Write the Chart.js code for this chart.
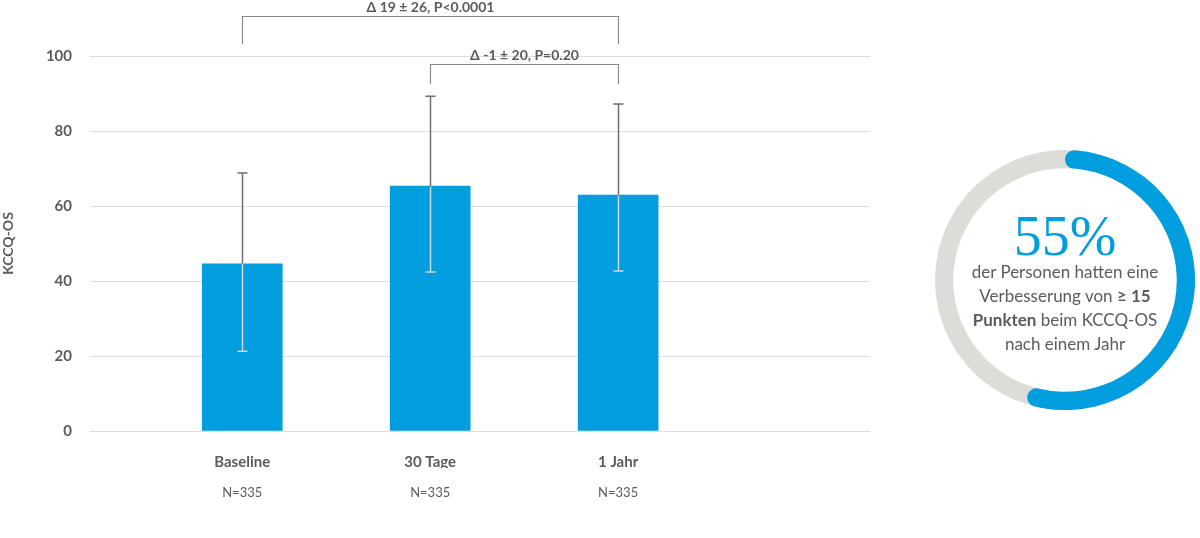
<!DOCTYPE html>
<html lang="de">
<head>
<meta charset="UTF-8">
<title>KCCQ-OS</title>
<script src="https://cdn.jsdelivr.net/npm/chart.js"></script>
<style>
  body { margin: 0; background: #fff; width: 1200px; height: 538px; overflow: hidden; font-family: Lato, sans-serif; }
  #barWrap { position: absolute; left: 0; top: 0; width: 900px; height: 538px; }
  .ring { position: absolute; left: 935px; top: 150px; width: 260px; height: 260px; }
  #ringText { position: absolute; left: 935px; top: 150px; width: 260px; height: 260px; text-align: center; color: #5b5b5b; }
  #ringText .big { font-family: "Liberation Serif", serif; color: #009ddf; font-size: 56px; line-height: 56px; margin-top: 58px; }
  #ringText .small { font-size: 17px; line-height: 24px; margin-top: -4px; }
  #ringText b { font-weight: 700; }
</style>
</head>
<body>
<div id="barWrap"><canvas id="bars"></canvas></div>
<div class="ring"><canvas id="ringBg"></canvas></div>
<div class="ring"><canvas id="ringFg"></canvas></div>
<div id="ringText">
  <div class="big">55%</div>
  <div class="small">der Personen hatten eine<br>Verbesserung von <b>≥ 15</b><br><b>Punkten</b> beim KCCQ-OS<br>nach einem Jahr</div>
</div>

<script>
// data
const categories = ['Baseline', '30 Tage', '1 Jahr'];
const nLabels = ['N=335', 'N=335', 'N=335'];
const means = [44.6, 65.3, 62.9];
const errHigh = [68.8, 89.3, 87.2];
const errLow = [21.3, 42.4, 42.7];
const yTicks = [0, 20, 40, 60, 80, 100];

// brackets over the bars (category index from/to, y level in KCCQ units)
const bracketFrom = [0, 1];
const bracketTo = [2, 2];
const bracketLevel = [110.7, 97.9];
const bracketLegEnd = [103.2, 92.5];
const bracketLabels = ['Δ 19 ± 26, P<0.0001', 'Δ -1 ± 20, P=0.20'];

const improvedPct = 55;

const blue = '#009ddf';
const textGray = '#5b5b5b';

const errorBars = {
  id: 'errorBars',
  afterDatasetsDraw(chart) {
    const xs = chart.scales.x, ys = chart.scales.y, ctx = chart.ctx;
    ctx.save();
    ctx.lineWidth = 1.5;
    means.forEach((m, i) => {
      const x = Math.round(xs.getPixelForValue(i + 1)) + 0.5;
      const yHi = ys.getPixelForValue(errHigh[i]);
      const yM = ys.getPixelForValue(m);
      const yLo = ys.getPixelForValue(errLow[i]);
      ctx.strokeStyle = '#6f6f72';
      ctx.beginPath();
      ctx.moveTo(x, yHi); ctx.lineTo(x, yM);
      ctx.moveTo(x - 5, yHi); ctx.lineTo(x + 5, yHi);
      ctx.stroke();
      ctx.strokeStyle = '#d4d4d4';
      ctx.beginPath();
      ctx.moveTo(x, yM); ctx.lineTo(x, yLo);
      ctx.moveTo(x - 5, yLo); ctx.lineTo(x + 5, yLo);
      ctx.stroke();
    });
    ctx.restore();
  }
};

const brackets = {
  id: 'brackets',
  afterDraw(chart) {
    const xs = chart.scales.x, ys = chart.scales.y, ctx = chart.ctx;
    ctx.save();
    ctx.strokeStyle = '#8a8a8c';
    ctx.lineWidth = 1.2;
    ctx.fillStyle = textGray;
    ctx.font = 'bold 14px Lato, sans-serif';
    ctx.textAlign = 'center';
    ctx.textBaseline = 'middle';
    bracketLabels.forEach((lab, i) => {
      const x1 = Math.round(xs.getPixelForValue(bracketFrom[i] + 1)) + 0.5;
      const x2 = Math.round(xs.getPixelForValue(bracketTo[i] + 1)) + 0.5;
      const y = Math.round(ys.getPixelForValue(bracketLevel[i])) + 0.5;
      const yEnd = ys.getPixelForValue(bracketLegEnd[i]);
      ctx.beginPath();
      ctx.moveTo(x1, yEnd); ctx.lineTo(x1, y); ctx.lineTo(x2, y); ctx.lineTo(x2, yEnd);
      ctx.stroke();
      ctx.fillText(lab, (x1 + x2) / 2, y - 9);
    });
    ctx.restore();
  }
};

const xMin = 0.19, xMax = 4.34;

new Chart(document.getElementById('bars'), {
  type: 'bar',
  data: {
    datasets: [{
      data: means.map((v, i) => ({ x: i + 1, y: v })),
      backgroundColor: blue,
      borderWidth: 0,
      barThickness: 80
    }]
  },
  options: {
    responsive: true,
    maintainAspectRatio: false,
    animation: false,
    layout: { padding: { top: 56, right: 30, bottom: 38, left: 0 } },
    plugins: { legend: { display: false }, tooltip: { enabled: false } },
    scales: {
      x: {
        type: 'linear', min: xMin, max: xMax, weight: 0, offset: false,
        grid: { display: false }, border: { display: false },
        afterBuildTicks: s => { s.ticks = categories.map((c, i) => ({ value: i + 1 })); },
        afterFit: s => { s.height = 37; },
        ticks: {
          autoSkip: false, maxRotation: 0, padding: 14, color: textGray,
          font: { family: 'Lato', size: 15, weight: 'bold' },
          callback: (v) => categories[v - 1]
        }
      },
      x2: {
        type: 'linear', position: 'bottom', min: xMin, max: xMax, weight: 1, offset: false,
        grid: { display: false }, border: { display: false },
        afterBuildTicks: s => { s.ticks = nLabels.map((c, i) => ({ value: i + 1 })); },
        afterFit: s => { s.height = 32; },
        ticks: {
          autoSkip: false, maxRotation: 0, padding: 9, color: textGray,
          font: { family: 'Lato', size: 13 },
          callback: (v) => nLabels[v - 1]
        }
      },
      y: {
        min: 0, max: 100,
        afterBuildTicks: s => { s.ticks = yTicks.map(v => ({ value: v })); },
        afterFit: s => { s.width = 90; },
        border: { display: false },
        grid: { color: '#dddddd', lineWidth: 1, drawTicks: false },
        ticks: {
          padding: 18, color: textGray,
          font: { family: 'Lato', size: 15, weight: 'bold' }
        },
        title: {
          display: true, text: 'KCCQ-OS', color: textGray,
          font: { family: 'Lato', size: 14, weight: 'bold' },
          padding: { top: 0, bottom: 0 }
        }
      }
    }
  },
  plugins: [errorBars, brackets]
});

const ringOpts = {
  responsive: true,
  maintainAspectRatio: true,
  animation: false,
  cutout: '86%',
  plugins: { legend: { display: false }, tooltip: { enabled: false } }
};

new Chart(document.getElementById('ringBg'), {
  type: 'doughnut',
  data: { datasets: [{ data: [100], backgroundColor: ['#dcdcd8'], borderWidth: 0 }] },
  options: ringOpts
});

new Chart(document.getElementById('ringFg'), {
  type: 'doughnut',
  data: {
    datasets: [{
      data: [improvedPct, 100 - improvedPct],
      backgroundColor: [blue, 'rgba(0,0,0,0)'],
      borderWidth: 0,
      borderRadius: ctx => ctx.dataIndex === 0 ? 9 : 0
    }]
  },
  options: ringOpts
});
</script>
</body>
</html>
